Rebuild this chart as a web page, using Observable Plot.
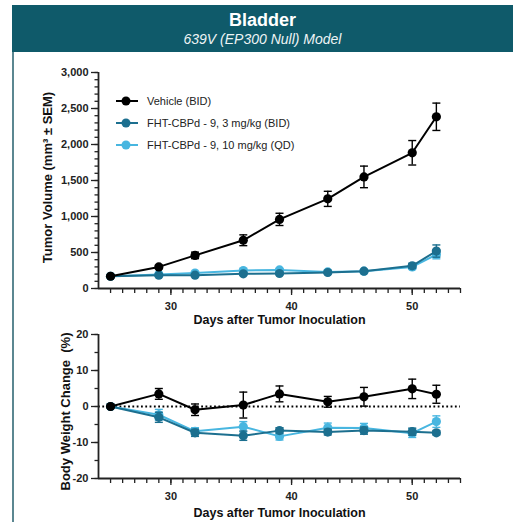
<!DOCTYPE html>
<html><head><meta charset="utf-8">
<script src="https://cdn.jsdelivr.net/npm/d3@7"></script>
<script src="https://cdn.jsdelivr.net/npm/@observablehq/plot@0.6"></script>
<style>
body{margin:0;background:#fff;font-family:"Liberation Sans",Arial,sans-serif;}
#wrap{position:relative;width:513px;height:522px;overflow:hidden;background:#fff;}
#header{position:absolute;left:12px;top:5px;width:501px;height:47px;background:#0f5a6a;color:#fff;text-align:center;}
#title{position:absolute;left:0;width:100%;top:5px;font-weight:bold;font-size:18px;line-height:21px;}
#subtitle{position:absolute;left:0;width:100%;top:26px;font-style:italic;font-size:14px;line-height:16px;color:#eef4f5;}
#border{position:absolute;left:12px;top:52px;width:1.5px;height:470px;background:#5b8791;}
.chart{position:absolute;left:0;}
#legend{position:absolute;left:114px;top:90px;font-size:11px;color:#222;}
#legend .row{height:22px;display:flex;align-items:center;}
#legend svg{width:26px;height:14px;margin-right:7px;}
</style></head>
<body><div id="wrap">
<div id="header"><div id="title">Bladder</div><div id="subtitle">639V (EP300 Null) Model</div></div>
<div id="border"></div>
<div id="top" class="chart" style="top:52px"></div>
<div id="bottom" class="chart" style="top:310px"></div>
<div id="legend"></div>
</div>
<script>
const days = [25, 29, 32, 36, 39, 43, 46, 50, 52];
const seriesNames = ["FHT-CBPd - 9, 10 mg/kg (QD)", "FHT-CBPd - 9, 3 mg/kg (BID)", "Vehicle (BID)"];
const seriesColors = ["#48b6e0", "#1c6f8f", "#000000"];
const legendOrder = ["Vehicle (BID)", "FHT-CBPd - 9, 3 mg/kg (BID)", "FHT-CBPd - 9, 10 mg/kg (QD)"];

// Tumor volume (mm3) mean and SEM
const vehicleVol = [170, 300, 460, 670, 960, 1245, 1550, 1885, 2385];
const vehicleVolSem = [12, 25, 45, 75, 85, 105, 150, 170, 190];
const low3Vol = [170, 185, 185, 204, 208, 222, 240, 315, 520];
const low3VolSem = [10, 15, 15, 15, 15, 15, 15, 35, 85];
const high10Vol = [170, 195, 215, 250, 258, 230, 240, 300, 472];
const high10VolSem = [10, 15, 20, 20, 20, 15, 15, 35, 60];

// Body weight change (%) mean and SEM
const vehicleBW = [0, 3.5, -0.9, 0.4, 3.5, 1.3, 2.7, 4.9, 3.4];
const vehicleBWSem = [0.3, 1.5, 1.6, 3.6, 2.2, 1.5, 2.6, 2.7, 2.5];
const low3BW = [0, -3.0, -7.3, -8.1, -6.7, -7.1, -6.7, -7.0, -7.3];
const low3BWSem = [0.2, 1.4, 1.0, 1.3, 0.8, 0.8, 1.0, 1.0, 0.6];
const high10BW = [0, -2.3, -6.9, -5.6, -8.3, -5.9, -6.0, -7.4, -4.2];
const high10BWSem = [0.2, 1.5, 1.0, 1.4, 1.0, 1.3, 1.3, 1.2, 1.6];

const xMajor = [30, 40, 50];
const xMinor = d3.range(25, 55);
const volMajor = d3.range(0, 3001, 500);
const volMinor = d3.range(0, 3001, 100);
const bwMajor = [-20, -10, 0, 10, 20];
const bwMinor = d3.range(-20, 21, 5);

function rows(name, ys, sems) {
  return days.map((d, i) => ({series: name, day: d, y: ys[i], lo: ys[i] - sems[i], hi: ys[i] + sems[i]}));
}
const volData = [
  ...rows(seriesNames[0], high10Vol, high10VolSem),
  ...rows(seriesNames[1], low3Vol, low3VolSem),
  ...rows(seriesNames[2], vehicleVol, vehicleVolSem)
];
const bwData = [
  ...rows(seriesNames[0], high10BW, high10BWSem),
  ...rows(seriesNames[1], low3BW, low3BWSem),
  ...rows(seriesNames[2], vehicleBW, vehicleBWSem)
];

const cap = {draw(ctx, size) { const r = Math.sqrt(size / Math.PI); ctx.moveTo(-r, 0); ctx.lineTo(r, 0); }};
const font = "Liberation Sans, Arial, sans-serif";
const axisColor = "#222";

function seriesMarks(data) {
  const marks = [];
  for (const name of seriesNames) {
    const d = data.filter(r => r.series === name);
    marks.push(
      Plot.ruleX(d, {x: "day", y1: "lo", y2: "hi", stroke: "series", strokeWidth: 1.4}),
      Plot.dot(d, {x: "day", y: "hi", symbol: cap, r: 4, stroke: "series", strokeWidth: 1.4}),
      Plot.dot(d, {x: "day", y: "lo", symbol: cap, r: 4, stroke: "series", strokeWidth: 1.4}),
      Plot.line(d, {x: "day", y: "y", stroke: "series", strokeWidth: 2}),
      Plot.dot(d, {x: "day", y: "y", fill: "series", r: 4.6})
    );
  }
  return marks;
}

function xAxes(label, dy) {
  return [
    Plot.axisX({ticks: xMinor, tickSize: 5, tickFormat: () => "", label: null, stroke: axisColor, strokeWidth: 1.3}),
    Plot.axisX({ticks: xMajor, tickSize: 7, tickPadding: 7, label: null, fontSize: 11, fontWeight: "bold", fill: axisColor, stroke: axisColor, strokeWidth: 1.3}),
    Plot.text([label], {frameAnchor: "bottom", dy: dy, fontSize: 12.5, fontWeight: "bold", fill: "#111"})
  ];
}

const topPlot = Plot.plot({
  width: 513, height: 280,
  marginLeft: 98, marginRight: 53, marginTop: 20, marginBottom: 44,
  style: {fontFamily: font, background: "transparent", overflow: "visible"},
  x: {domain: [24, 54]},
  y: {domain: [0, 3000]},
  color: {domain: seriesNames, range: seriesColors},
  marks: [
    Plot.axisY({ticks: volMinor, tickSize: 3.5, tickFormat: () => "", label: null, stroke: axisColor, strokeWidth: 1.3}),
    Plot.axisY({ticks: volMajor, tickSize: 7, tickPadding: 3, tickFormat: d3.format(","), label: null, fontSize: 11, fontWeight: "bold", fill: axisColor, stroke: axisColor, strokeWidth: 1.3}),
    Plot.text(["Tumor Volume (mm³ ± SEM)"], {frameAnchor: "left", textAnchor: "middle", rotate: -90, dx: -51, dy: -3, fontSize: 13, fontWeight: "bold", fill: "#111"}),
    ...xAxes("Days after Tumor Inoculation", 35),
    Plot.ruleY([0], {stroke: axisColor, strokeWidth: 1.8}),
    Plot.ruleX([24], {stroke: axisColor, strokeWidth: 1.8}),
    ...seriesMarks(volData)
  ]
});
document.getElementById("top").appendChild(topPlot);

const bottomPlot = Plot.plot({
  width: 513, height: 212,
  marginLeft: 98, marginRight: 53, marginTop: 24, marginBottom: 44,
  style: {fontFamily: font, background: "transparent", overflow: "visible"},
  x: {domain: [24, 54]},
  y: {domain: [-20, 20]},
  color: {domain: seriesNames, range: seriesColors},
  marks: [
    Plot.axisY({ticks: bwMinor, tickSize: 3.5, tickFormat: () => "", label: null, stroke: axisColor, strokeWidth: 1.3}),
    Plot.axisY({ticks: bwMajor, tickSize: 7, tickPadding: 3, tickFormat: d => `${d}`, label: null, fontSize: 11, fontWeight: "bold", fill: axisColor, stroke: axisColor, strokeWidth: 1.3}),
    Plot.text(["Body Weight Change  (%)"], {frameAnchor: "left", textAnchor: "middle", rotate: -90, dx: -33, dy: 5, fontSize: 13, fontWeight: "bold", fill: "#111"}),
    ...xAxes("Days after Tumor Inoculation", 38),
    Plot.ruleY([0], {stroke: "#000", strokeWidth: 1.8, strokeDasharray: "1.8,2.5"}),
    Plot.ruleY([-20], {stroke: axisColor, strokeWidth: 1.8}),
    Plot.ruleX([24], {stroke: axisColor, strokeWidth: 1.8}),
    ...seriesMarks(bwData)
  ]
});
document.getElementById("bottom").appendChild(bottomPlot);

// Legend
const legend = document.getElementById("legend");
for (const name of legendOrder) {
  const color = seriesColors[seriesNames.indexOf(name)];
  const row = document.createElement("div");
  row.className = "row";
  row.innerHTML = `<svg viewBox="0 0 26 14"><line x1="2" x2="24" y1="7" y2="7" stroke="${color}" stroke-width="2"/><circle cx="12" cy="7" r="4.5" fill="${color}"/></svg><span></span>`;
  row.querySelector("span").textContent = name;
  legend.appendChild(row);
}
</script>
</body></html>
